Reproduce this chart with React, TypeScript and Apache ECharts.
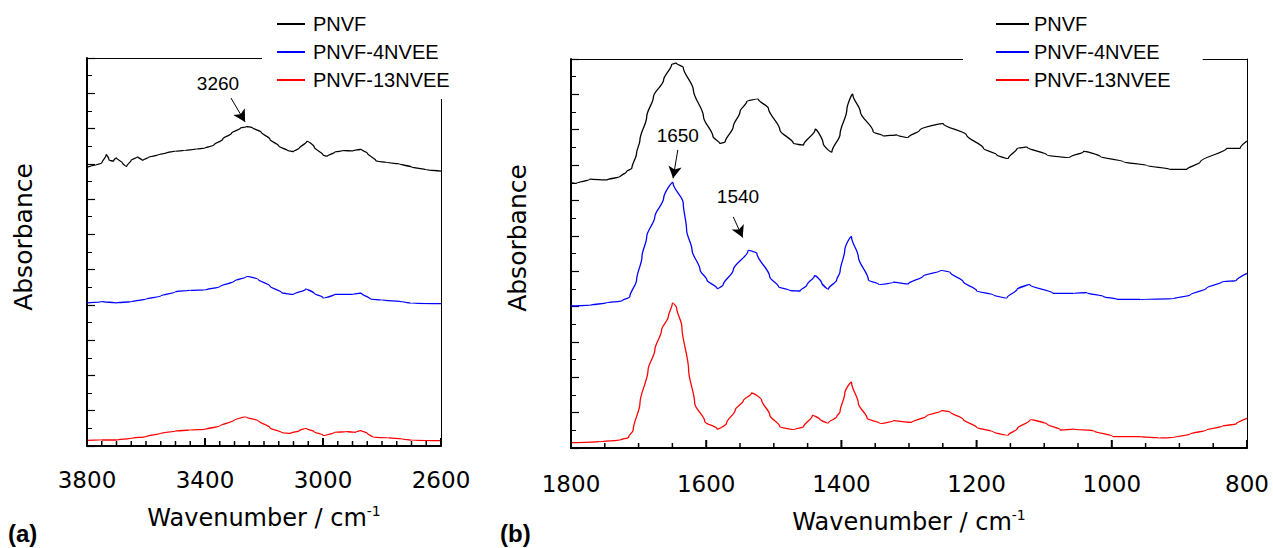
import React, { useEffect, useRef } from "react";
import * as echarts from "echarts";

const seriesNames = ["PNVF", "PNVF-4NVEE", "PNVF-13NVEE"];
const seriesColors = ["#000000", "#0000ff", "#ff0000"];

// Panel (a): 3800-2600 cm-1
const aPnvfX = [3800,3785,3770,3750,3735,3725,3710,3700,3680,3665,3650,3630,3610,3590,3560,3530,3500,3470,3430,3400,3370,3340,3310,3280,3260,3240,3210,3180,3150,3120,3100,3080,3055,3030,3000,2985,2960,2930,2900,2870,2850,2820,2780,2740,2700,2650,2600];
const aPnvfY = [15.82,15.89,15.93,16.04,16.50,16.21,16.16,16.33,16.04,15.87,16.21,16.38,16.21,16.38,16.50,16.63,16.72,16.75,16.84,16.89,17.06,17.40,17.74,18.03,18.10,18.06,17.80,17.40,17.01,16.75,16.70,16.89,17.26,16.95,16.50,16.44,16.67,16.75,16.73,16.81,16.61,16.16,16.07,15.99,15.82,15.67,15.59];
const a4X = [3800,3750,3700,3650,3600,3550,3500,3450,3400,3350,3300,3260,3220,3180,3140,3100,3060,3030,3000,2960,2900,2870,2840,2800,2730,2700,2600];
const a4Y = [8.12,8.18,8.12,8.18,8.33,8.50,8.75,8.83,8.84,9.03,9.35,9.60,9.45,9.07,8.69,8.60,8.88,8.66,8.41,8.60,8.60,8.66,8.33,8.28,8.18,8.09,8.07];
const a13X = [3800,3750,3700,3650,3600,3550,3500,3450,3400,3350,3300,3260,3220,3180,3140,3110,3080,3055,3030,3000,2960,2920,2890,2870,2850,2830,2780,2730,2700,2600];
const a13Y = [0.32,0.34,0.34,0.44,0.53,0.72,0.85,0.91,0.94,1.13,1.47,1.63,1.44,1.04,0.76,0.72,0.87,0.98,0.81,0.61,0.78,0.81,0.78,0.87,0.72,0.49,0.47,0.40,0.32,0.30];

// Panel (b): 1800-800 cm-1
const bPnvfX = [1800,1792,1772,1747,1727,1718,1710,1703,1698,1688,1678,1663,1651,1644,1634,1619,1604,1590,1580,1572,1560,1550,1540,1523,1508,1491,1471,1456,1439,1427,1414,1402,1392,1383,1372,1353,1338,1318,1301,1284,1249,1215,1190,1170,1153,1140,1125,1096,1062,1042,1017,983,948,914,889,869,830,810,800];
const bPnvfY = [15.01,14.97,15.20,15.16,15.35,15.63,15.82,16.67,17.42,18.74,19.87,20.81,21.70,21.76,21.53,20.25,18.74,17.61,17.23,17.31,18.17,19.02,19.59,19.72,19.21,17.99,17.23,17.14,17.99,17.23,16.76,17.75,19.12,19.97,19.02,17.89,17.65,17.70,17.57,17.99,18.33,17.70,16.95,16.57,16.39,16.95,17.01,16.57,16.44,16.76,16.48,16.19,15.97,15.76,15.76,16.19,16.95,16.95,17.36];
const b4X = [1800,1772,1747,1725,1713,1703,1695,1688,1676,1663,1649,1634,1629,1621,1609,1599,1584,1575,1560,1538,1525,1506,1493,1476,1461,1451,1440,1429,1419,1407,1402,1395,1385,1375,1360,1345,1323,1301,1279,1254,1239,1220,1200,1175,1155,1140,1121,1087,1057,1037,1012,992,958,909,884,860,836,816,800];
const b4Y = [8.03,8.07,8.22,8.31,8.56,9.50,10.82,11.95,13.08,14.12,14.97,13.86,12.33,11.20,10.07,9.50,9.03,9.22,10.07,11.16,11.01,9.69,9.12,8.90,8.88,9.22,9.73,9.32,9.01,9.50,9.97,11.20,11.92,10.82,9.50,9.26,9.37,9.28,9.73,10.03,9.92,9.41,8.90,8.65,8.50,8.98,9.22,8.75,8.75,8.78,8.56,8.41,8.41,8.44,8.65,9.03,9.41,9.46,9.88];
const b13X = [1800,1757,1727,1715,1708,1698,1686,1676,1666,1656,1650,1644,1636,1626,1617,1602,1584,1570,1557,1545,1533,1518,1506,1491,1469,1456,1443,1432,1419,1407,1402,1395,1385,1375,1362,1343,1323,1296,1274,1252,1239,1220,1200,1175,1153,1140,1121,1096,1076,1057,1027,998,958,929,909,884,860,836,816,800];
const b13Y = [0.30,0.36,0.45,0.60,1.02,2.53,4.41,5.54,6.67,7.43,8.18,7.96,6.86,4.41,2.53,1.49,1.09,1.40,2.15,2.68,3.09,2.71,1.87,1.20,1.06,1.20,1.83,1.62,1.43,1.77,2.05,3.09,3.69,2.53,1.68,1.40,1.54,1.45,1.81,2.11,2.04,1.62,1.17,0.90,0.74,1.09,1.58,1.36,1.02,1.06,0.98,0.64,0.64,0.57,0.59,0.79,1.02,1.24,1.36,1.68];

// Axis ranges (wavenumber axes run from high to low)
const aRange = [3800, 2600];
const aInterval = 400;
const aMinorStep = 50;
const bRange = [1800, 800];
const bInterval = 200;
const bMinorStep = 50;
const yRange = [0, 22];

// Annotations: [labelX, labelY, arrowStartX, arrowStartY, arrowEndX, arrowEndY]
const aPeak = { text: "3260", pos: [3356, 20.58, 3312, 19.73, 3264, 18.37] };
const bPeak1650 = { text: "1650", pos: [1642, 17.65, 1642, 16.86, 1649, 15.25] };
const bPeak1540 = { text: "1540", pos: [1553, 14.25, 1560, 13.07, 1546, 11.9] };

const SANS = "'Liberation Sans', Arial, sans-serif";
const WIDE = "'DejaVu Sans', sans-serif";

// Wavenumber axes are drawn reversed by mapping wn -> -wn and labelling |value|.
const flip = (v: number) => -v;
const zip = (xs: number[], ys: number[]) => xs.map((x, i) => [flip(x), ys[i]]);

// Tick marks along the wavenumber axes: [position, tick length]
const tickList = (range: number[], major: number, minor: number) => {
  const out: number[][] = [];
  for (let v = range[1]; v <= range[0]; v += minor) {
    out.push([flip(v), (v - range[1]) % major === 0 ? 8 : 5]);
  }
  return out;
};

const annotate = (peaks: { text: string; pos: number[] }[]) => ({
  markLine: {
    silent: true,
    animation: false,
    symbol: ["none", "arrow"],
    symbolSize: [10, 12],
    lineStyle: { color: "#000", width: 1, type: "solid" },
    label: { show: false },
    emphasis: { disabled: true },
    data: peaks.map((p) => [
      { coord: [flip(p.pos[2]), p.pos[3]] },
      { coord: [flip(p.pos[4]), p.pos[5]] },
    ]),
  },
  markPoint: {
    silent: true,
    animation: false,
    symbol: "circle",
    symbolSize: 1,
    itemStyle: { color: "rgba(0,0,0,0)" },
    label: { show: true, position: "inside", color: "#000", fontSize: 19, fontFamily: SANS, formatter: "{b}" },
    data: peaks.map((p) => ({ name: p.text, coord: [flip(p.pos[0]), p.pos[1]] })),
  },
});

const bottomX = (grid: number, range: number[], interval: number, labelMargin: number, nameGap: number) => ({
  type: "value",
  gridIndex: grid,
  position: "bottom",
  min: flip(range[0]),
  max: flip(range[1]),
  interval,
  axisLine: { show: true, onZero: false, lineStyle: { color: "#000", width: 2 } },
  axisTick: { show: false },
  minorTick: { show: false },
  splitLine: { show: false },
  minorSplitLine: { show: false },
  axisLabel: {
    color: "#000",
    fontSize: 23,
    fontFamily: WIDE,
    margin: labelMargin,
    formatter: (v: number) => String(Math.abs(v)),
  },
  name: "{a|Wavenumber / cm}{b|-1}",
  nameLocation: "middle",
  nameGap,
  nameTextStyle: {
    color: "#000",
    fontFamily: WIDE,
    rich: {
      a: { fontSize: 24, fontFamily: WIDE, color: "#000" },
      b: { fontSize: 14, fontFamily: WIDE, color: "#000", padding: [0, 0, 14, 0] },
    },
  },
});

const topX = (grid: number, range: number[]) => ({
  type: "value",
  gridIndex: grid,
  position: "top",
  min: flip(range[0]),
  max: flip(range[1]),
  axisLine: { show: true, onZero: false, lineStyle: { color: "#000", width: 1 } },
  axisTick: { show: false },
  axisLabel: { show: false },
  splitLine: { show: false },
});

const leftY = (grid: number) => ({
  type: "value",
  gridIndex: grid,
  position: "left",
  min: yRange[0],
  max: yRange[1],
  interval: 2,
  axisLine: { show: true, onZero: false, lineStyle: { color: "#000", width: 2 } },
  axisTick: { show: true, inside: true, length: 8, lineStyle: { color: "#000", width: 1.2 } },
  minorTick: { show: true, splitNumber: 2, length: 5, lineStyle: { color: "#000", width: 1 } },
  axisLabel: { show: false },
  splitLine: { show: false },
  minorSplitLine: { show: false },
});

const rightY = (grid: number) => ({
  type: "value",
  gridIndex: grid,
  position: "right",
  min: yRange[0],
  max: yRange[1],
  axisLine: { show: true, onZero: false, lineStyle: { color: "#000", width: 1 } },
  axisTick: { show: false },
  axisLabel: { show: false },
  splitLine: { show: false },
});

const lineSeries = (name: string, color: string, data: number[][], xi: number, yi: number, extra: any = {}) => ({
  type: "line",
  name,
  color,
  xAxisIndex: xi,
  yAxisIndex: yi,
  data,
  showSymbol: false,
  symbol: "none",
  smooth: 0.3,
  smoothMonotone: "y",
  lineStyle: { color, width: 1.3 },
  emphasis: { disabled: true },
  z: 2,
  ...extra,
});

const textGraphics = [
  { type: "text", x: 23, y: 237, rotation: Math.PI / 2, style: { text: "Absorbance", fontSize: 25, fontFamily: WIDE, fill: "#000", textAlign: "center", textVerticalAlign: "middle", align: "center", verticalAlign: "middle" } },
  { type: "text", x: 517, y: 238, rotation: Math.PI / 2, style: { text: "Absorbance", fontSize: 25, fontFamily: WIDE, fill: "#000", textAlign: "center", textVerticalAlign: "middle", align: "center", verticalAlign: "middle" } },
  { type: "text", x: 8, y: 533, style: { text: "(a)", fontSize: 24, fontWeight: "bold", fontFamily: SANS, fill: "#000", textVerticalAlign: "middle", verticalAlign: "middle" } },
  { type: "text", x: 500, y: 533, style: { text: "(b)", fontSize: 24, fontWeight: "bold", fontFamily: SANS, fill: "#000", textVerticalAlign: "middle", verticalAlign: "middle" } },
];

export default function App() {
  const ref = useRef<HTMLDivElement>(null);
  useEffect(() => {
    if (!ref.current) return;
    const chart = echarts.init(ref.current, undefined, { renderer: "svg" });
    const legendCommon = {
      orient: "vertical",
      top: 6,
      itemGap: 8,
      itemHeight: 2,
      icon: "rect",
      backgroundColor: "#fff",
      borderWidth: 0,
      selectedMode: false,
      data: seriesNames,
      z: 10,
    };
    chart.setOption({
      animation: false,
      backgroundColor: "#fff",
      textStyle: { fontFamily: SANS },
      grid: [
        { left: 87, top: 58, width: 354, height: 388 },
        { left: 571, top: 59, width: 676, height: 389 },
      ],
      legend: [
        {
          ...legendCommon,
          left: 262,
          padding: [8, 5, 9, 15],
          itemWidth: 28,
          textStyle: { fontSize: 20, lineHeight: 20, color: "#000", fontFamily: SANS, padding: [0, 0, 0, 3] },
        },
        {
          ...legendCommon,
          left: 963,
          padding: [8, 32, 9, 33],
          itemWidth: 33,
          textStyle: { fontSize: 20, lineHeight: 20, color: "#000", fontFamily: SANS },
        },
      ],
      xAxis: [
        bottomX(0, aRange, aInterval, 22, 58),
        topX(0, aRange),
        bottomX(1, bRange, bInterval, 24, 60),
        topX(1, bRange),
      ],
      yAxis: [leftY(0), rightY(0), leftY(1), rightY(1)],
      series: [
        lineSeries(seriesNames[0], seriesColors[0], zip(aPnvfX, aPnvfY), 0, 0, annotate([aPeak])),
        lineSeries(seriesNames[1], seriesColors[1], zip(a4X, a4Y), 0, 0),
        lineSeries(seriesNames[2], seriesColors[2], zip(a13X, a13Y), 0, 0),
        lineSeries(seriesNames[0], seriesColors[0], zip(bPnvfX, bPnvfY), 2, 2),
        lineSeries(seriesNames[1], seriesColors[1], zip(b4X, b4Y), 2, 2, annotate([bPeak1650, bPeak1540])),
        lineSeries(seriesNames[2], seriesColors[2], zip(b13X, b13Y), 2, 2),
      ],
    });

    // Wavenumber-axis tick marks, placed through the axes' own scales (thin filled rects).
    const tickGraphics: any[] = [];
    const addTicks = (ticks: number[][], seriesIndex: number) => {
      ticks.forEach(([v, len]) => {
        const p = chart.convertToPixel({ seriesIndex }, [v, yRange[0]]) as number[];
        if (!p) return;
        const w = len > 6 ? 2 : 1.5;
        tickGraphics.push({
          type: "rect",
          silent: true,
          z: 50,
          shape: { x: p[0] - w / 2, y: p[1] - len, width: w, height: len },
          style: { fill: "#000" },
        });
      });
    };
    addTicks(tickList(aRange, aInterval, aMinorStep), 0);
    addTicks(tickList(bRange, bInterval, bMinorStep), 3);

    chart.setOption({ graphic: [...textGraphics, ...tickGraphics] });
    return () => chart.dispose();
  }, []);
  return <div ref={ref} style={{ position: "absolute", left: 0, top: 0, width: 1273, height: 548, background: "#fff" }} />;
}
